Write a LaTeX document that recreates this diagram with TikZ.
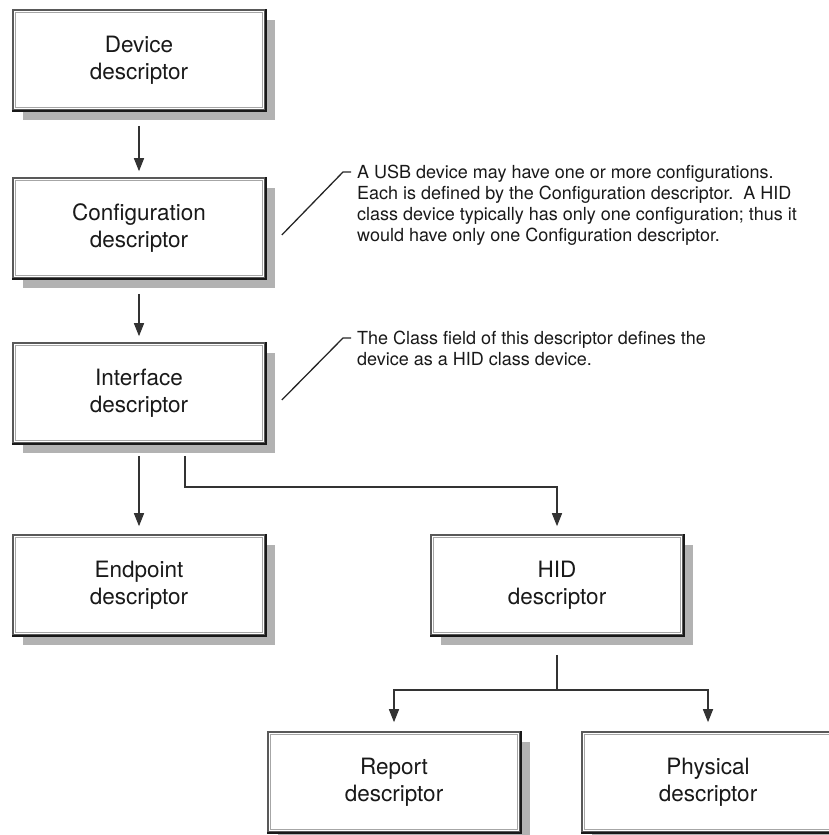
\documentclass[tikz,border=0pt]{standalone}
\usepackage{fontspec}
\setmainfont{TeX Gyre Heros}
\usetikzlibrary{arrows.meta,shadows}

\tikzset{
  descbox/.style={draw=black!65, line width=1.6pt, fill=white,
    minimum width=252pt, minimum height=100pt, inner sep=0pt,
    align=center, text=black!90, font=\fontsize{22.5}{27}\selectfont,
    drop shadow={shadow xshift=10pt, shadow yshift=-10pt, fill=black!30, opacity=1},
    path picture={\draw[black!35, line width=1.2pt]
      ([shift={(2.2pt,-2.2pt)}]path picture bounding box.north west) rectangle
      ([shift={(-2.2pt,2.2pt)}]path picture bounding box.south east);}},
  notetext/.style={anchor=north west, inner sep=0pt, align=left,
    text=black!90, font=\fontsize{18}{21}\selectfont},
  arr/.style={-{Triangle[length=13pt,width=10pt]}, line width=1.5pt, draw=black!80},
  plainline/.style={line width=1.5pt, draw=black!80},
  leader/.style={line width=1.3pt, draw=black!85}
}

\begin{document}
\begin{tikzpicture}[x=1pt,y=-1pt]
\useasboundingbox (0,0) rectangle (828,835);

\node[descbox] (dev) at (139,60) {Device\\descriptor};
\node[descbox] (cfg) at (139,228) {Configuration\\descriptor};
\node[descbox] (ifc) at (139,393) {Interface\\descriptor};
\node[descbox] (ep) at (139,585) {Endpoint\\descriptor};
\node[descbox] (hid) at (557,585) {HID\\descriptor};
\node[descbox] (rep) at (394,782) {Report\\descriptor};
\node[descbox] (phys) at (708,782) {Physical\\descriptor};

% darker right and bottom edges
\foreach \n in {dev,cfg,ifc,ep,hid,rep,phys}
  \draw[black!90, line width=2.4pt] (\n.south west) -- (\n.south east) -- (\n.north east);

\node[notetext] (cfgnote) at (357,165) {A USB device may have one or more configurations.\\
Each is defined by the Configuration descriptor.\ \ A HID\\
class device typically has only one configuration; thus it\\
would have only one Configuration descriptor.};
\node[notetext] (ifcnote) at (357,331) {The Class field of this descriptor defines the\\
device as a HID class device.};

\draw[leader] ([shift={(16pt,-7pt)}]cfg.east) -- ([shift={(-14pt,-7pt)}]cfgnote.north west)
  -- ([shift={(-6pt,-7pt)}]cfgnote.north west);
\draw[leader] ([shift={(16pt,-7pt)}]ifc.east) -- ([shift={(-14pt,-7pt)}]ifcnote.north west)
  -- ([shift={(-6pt,-7pt)}]ifcnote.north west);

\draw[arr] ([yshift=-15pt]dev.south) -- ([yshift=6pt]cfg.north);
\draw[arr] ([yshift=-15pt]cfg.south) -- ([yshift=6pt]ifc.north);
\draw[arr] ([yshift=-12pt]ifc.south) -- ([yshift=8pt]ep.north);
\draw[arr] ([xshift=46pt,yshift=-12pt]ifc.south) |- ([yshift=47pt]hid.north) -- ([yshift=8pt]hid.north);

\coordinate (split) at ([yshift=-54pt]hid.south);
\draw[plainline] ([yshift=-19pt]hid.south) -- (split);
\draw[arr] (split) -| ([yshift=9pt]rep.north);
\draw[arr] (split) -| ([yshift=9pt]phys.north);
\end{tikzpicture}
\end{document}
